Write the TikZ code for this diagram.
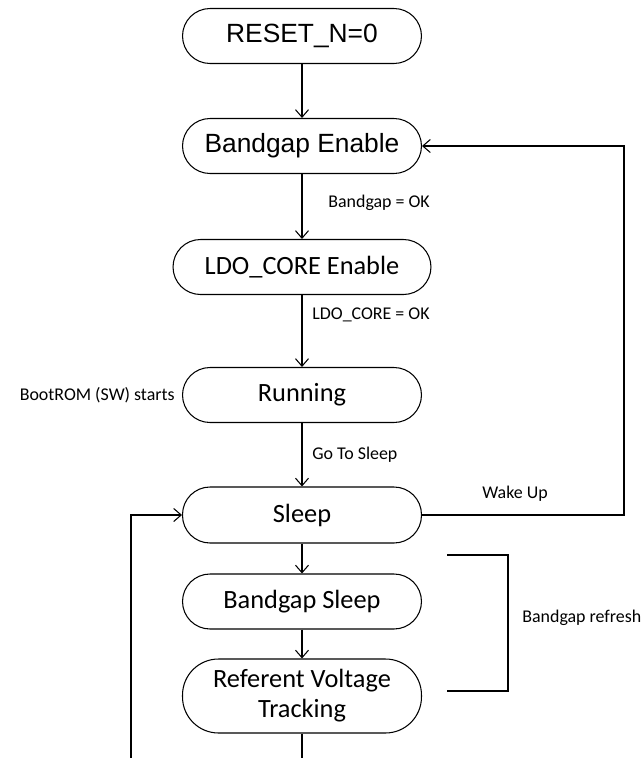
\documentclass[tikz,border=0pt]{standalone}
\usepackage{fontspec}
\setmainfont{Carlito}
\newfontfamily\arialfont{Liberation Sans}
\usepackage{tikz}
\usetikzlibrary{arrows.meta}

\tikzset{
  state/.style={draw,black,line width=0.6pt,rectangle,rounded corners=0.55cm,
    minimum width=4.78cm,minimum height=1.1cm,align=center,inner sep=0pt,
    font=\fontsize{15}{17}\selectfont},
  note/.style={font=\fontsize{10.2}{12}\selectfont,inner sep=0pt},
  flow/.style={black,line width=0.6pt},
  >={Straight Barb[length=1.5mm,width=2.6mm]}
}

\begin{document}
\begin{tikzpicture}[x=0.02cm,y=-0.02cm]

          \useasboundingbox (0,0) rectangle (644,758);

          % states
          \node[state,font=\fontsize{15}{17}\selectfont\arialfont] (reset) at (302,36) {RESET\_N=0};
          \node[state,font=\fontsize{15}{17}\selectfont\arialfont] (bgen) at (302,146) {Bandgap Enable};
          \node[state,minimum width=5.16cm] (ldo) at (302,267) {LDO\_CORE Enable};
          \node[state] (run) at (302,395) {Running};
          \node[state,minimum height=1.12cm] (sleep) at (302,515) {Sleep};
          \node[state] (bgsleep) at (302,601.5) {Bandgap Sleep};
          \node[state,minimum height=1.48cm,rounded corners=0.72cm] (rvt) at (302,696) {Referent Voltage\\Tracking};

          % labels
          \node[note,anchor=west] (lbgok) at (328,203) {Bandgap = OK};
          \node[note,anchor=west] (lldook) at (312,315) {LDO\_CORE = OK};
          \node[note,anchor=east] (lboot) at (175,395) {BootROM (SW) starts};
          \node[note,anchor=west] (lgts) at (312,455) {Go To Sleep};
          \node[note,anchor=west] (lwake) at (482,494) {Wake Up};
          \node[note,anchor=west] (lrefresh) at (522,618) {Bandgap refresh};

          % free ends
          \coordinate (wakeR) at (624,515);
          \coordinate (bot) at (302,758);
          \coordinate (loopin) at (131,758);
          \coordinate (brA) at (447,555);
          \coordinate (brB) at (508,555);
          \coordinate (brC) at (508,691);
          \coordinate (brD) at (447,691);

          % transitions
          \draw[flow,->] (reset) -- (bgen);
          \draw[flow,->] (bgen) -- (ldo);
          \draw[flow,->] (ldo) -- (run);
          \draw[flow,->] (run) -- (sleep);
          \draw[flow,->] (sleep) -- (bgsleep);
          \draw[flow,->] (bgsleep) -- (rvt);
          \draw[flow] (rvt) -- (bot);
          \draw[flow,->] (loopin) |- (sleep.west);
          \draw[flow,->] (sleep.east) -- (wakeR) |- (bgen.east);

          % refresh bracket
          \draw[flow] (brA) -- (brB) -- (brC) -- (brD);

\end{tikzpicture}
\end{document}
